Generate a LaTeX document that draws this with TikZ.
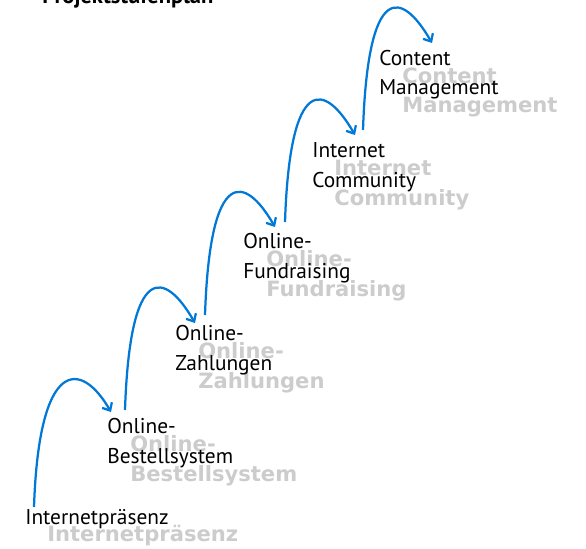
\documentclass[tikz,border=0pt]{standalone}
\usepackage{fontspec}
\setmainfont{PT Sans}
\newfontfamily\schattenfont{DejaVu Sans}
\usetikzlibrary{arrows.meta,backgrounds}
\definecolor{sprungblau}{RGB}{0,120,215}
\tikzset{
  stufe/.style={anchor=base west, inner sep=0pt, align=left,
    font=\fontsize{15.2}{21.3}\selectfont},
  schatten/.style={anchor=base west, inner sep=0pt, align=left, text=black!20,
    font=\schattenfont\bfseries\fontsize{15}{21.3}\selectfont},
  sprung/.style={sprungblau, line width=1.6pt, line join=round,
    -{Straight Barb[length=4.5pt,width=8pt]}}
}
\begin{document}
\begin{tikzpicture}[x=0.025cm, y=0.025cm, to path={
            .. controls +(5,150) and +(-30,52) .. (\tikztotarget) \tikztonodes}]
\useasboundingbox (0,0) rectangle (586,548);
\node[anchor=base west, inner sep=0pt, font=\bfseries\fontsize{16}{19}\selectfont] (titel) at (42,544) {Projektstufenplan};
% Stufen (base = letzte Zeile)
\node[stufe] (praesenz) at (25,24) {Internetpräsenz};
\node[stufe] (bestell) at (107,85) {Online-\\Bestellsystem};
\node[stufe] (zahlung) at (175,178) {Online-\\Zahlungen};
\node[stufe] (fundraising) at (243,270) {Online-\\Fundraising};
\node[stufe] (community) at (312,361) {Internet\\Community};
\node[stufe] (content) at (379,453) {Content\\Management};
% Schatten
\begin{scope}[on background layer]
\node[schatten] (praesenz-s) at ([shift={(22,-17)}]praesenz.base west) {Internetpräsenz};
\node[schatten] (bestell-s) at ([shift={(23,-18)}]bestell.base west) {Online-\\Bestellsystem};
\node[schatten] (zahlung-s) at ([shift={(23,-18)}]zahlung.base west) {Online-\\Zahlungen};
\node[schatten] (fundraising-s) at ([shift={(23,-18)}]fundraising.base west) {Online-\\Fundraising};
\node[schatten] (community-s) at ([shift={(22,-18)}]community.base west) {Internet\\Community};
\node[schatten] (content-s) at ([shift={(23,-18)}]content.base west) {Content\\Management};
\end{scope}
% Spruenge
\draw[sprung] ([shift={(9,17)}]praesenz.base west) to ([shift={(4,51)}]bestell.base west);
\draw[sprung] ([shift={(18,53)}]bestell.base west) to ([shift={(20,47)}]zahlung.base west);
\draw[sprung] ([shift={(30,55)}]zahlung.base west) to ([shift={(32,51)}]fundraising.base west);
\draw[sprung] ([shift={(42,56)}]fundraising.base west) to ([shift={(43,52)}]community.base west);
\draw[sprung] ([shift={(51,57)}]community.base west) to ([shift={(53,52)}]content.base west);
\end{tikzpicture}
\end{document}
